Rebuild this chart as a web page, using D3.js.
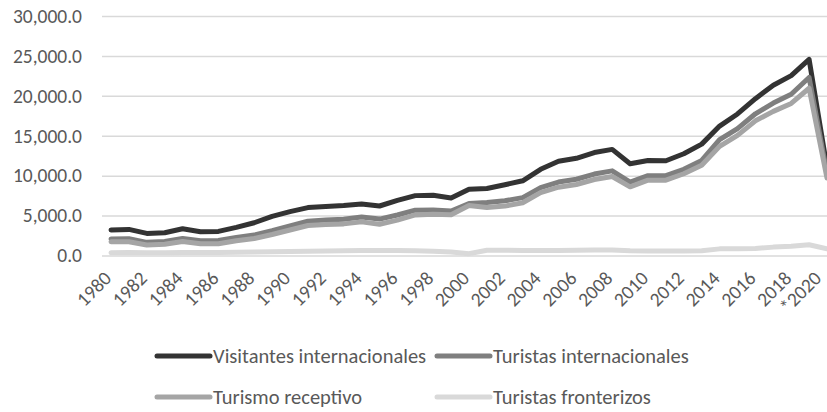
<!DOCTYPE html>
<html><head><meta charset="utf-8">
<script src="https://cdn.jsdelivr.net/npm/d3@7"></script>
<style>
body{margin:0;background:#fff;}
text{font-family:Calibri,Carlito,Lato,"Open Sans",sans-serif;}
</style>
</head><body>
<svg id="chart" width="827" height="412"></svg>
<script>
const categories = ["1980","1981","1982","1983","1984","1985","1986","1987","1988","1989",
  "1990","1991","1992","1993","1994","1995","1996","1997","1998","1999",
  "2000","2001","2002","2003","2004","2005","2006","2007","2008","2009",
  "2010","2011","2012","2013","2014","2015","2016","2017","2018","2019","*2020"];

const visitantesInternacionales = [3190,3270,2770,2850,3350,2980,3020,3520,4100,4900,
  5500,6000,6150,6250,6450,6200,6900,7500,7550,7200,
  8300,8400,8860,9360,10800,11800,12180,12900,13290,11500,
  11900,11870,12740,13950,16210,17730,19650,21330,22530,24560,11000];

const turistasInternacionales = [2060,2100,1650,1750,2140,1850,1870,2250,2560,3100,
  3700,4300,4450,4550,4830,4560,5070,5680,5700,5560,
  6500,6650,6850,7250,8500,9200,9550,10200,10600,9200,
  10000,10000,10800,11900,14500,15900,17750,19100,20200,22300,10300];

const turismoReceptivo = [1710,1730,1320,1410,1760,1470,1480,1840,2130,2630,
  3200,3760,3890,3960,4210,3920,4430,5080,5180,5110,
  6270,6000,6190,6610,7880,8560,8890,9520,9900,8600,
  9440,9440,10240,11300,13670,15040,16870,18050,19050,20950,9700];

const turistasFronterizos = [350,370,330,340,380,380,390,410,430,470,
  500,540,560,590,620,640,640,600,520,450,
  230,650,660,640,620,640,660,680,700,600,
  560,560,560,600,830,860,880,1050,1150,1350,850];

const seriesNames = ["Visitantes internacionales","Turistas internacionales","Turismo receptivo","Turistas fronterizos"];
const seriesColors = ["#333333","#7f7f7f","#a5a5a5","#d9d9d9"];
const yTickValues = [0,5000,10000,15000,20000,25000,30000];
const xTickLabels = categories.filter((d,i)=>i%2===0);

const seriesValues = [visitantesInternacionales, turistasInternacionales, turismoReceptivo, turistasFronterizos];

const svg = d3.select("#chart");
const AXIS_FONT = 19.5;
const LEGEND_FONT = 20.5;
const TEXT = "#595959";

const x = d3.scalePoint().domain(categories).range([111, 827]);
const y = d3.scaleLinear().domain([0, 30000]).range([255.5, 16]);

// y axis with gridlines
const yAxis = svg.append("g").attr("transform","translate(102,0)")
  .call(d3.axisLeft(y).tickValues(yTickValues).tickFormat(d3.format(",.1f"))
        .tickSize(-(827-102)).tickPadding(20));
yAxis.select(".domain").remove();
yAxis.selectAll(".tick line").attr("stroke","#d9d9d9").attr("stroke-width",1.5);
yAxis.selectAll(".tick text").attr("fill",TEXT).style("font-size",AXIS_FONT+"px")
  .style("font-family","Calibri,Carlito,Lato,sans-serif");

// x axis labels
const lastLabel = categories[categories.length-1];
const xAxis = svg.append("g").attr("transform","translate(0,255.5)")
  .call(d3.axisBottom(x).tickValues(xTickLabels).tickSize(0).tickPadding(0));
xAxis.select(".domain").remove();
xAxis.selectAll(".tick text")
  .attr("fill",TEXT).style("font-size",AXIS_FONT+"px")
  .style("font-family","Calibri,Carlito,Lato,sans-serif")
  .attr("text-anchor","end")
  .attr("dy",null).attr("y",null)
  .attr("transform",d => d===lastLabel ? "translate(-5,24) rotate(-45)" : "translate(1,24) rotate(-45)");

// lines
const line = d3.line().x((d,i)=>x(categories[i])).y(d=>y(d));
seriesValues.forEach((vals,k)=>{
  svg.append("path").datum(vals)
    .attr("d",line)
    .attr("fill","none")
    .attr("stroke",seriesColors[k])
    .attr("stroke-width",5)
    .attr("stroke-linejoin","round")
    .attr("stroke-linecap","round");
});

// legend
const legendPos = [[155,356],[435,356],[155,397],[435,397]];
seriesNames.forEach((name,k)=>{
  const g = svg.append("g").attr("transform",`translate(${legendPos[k][0]},${legendPos[k][1]})`);
  g.append("line").attr("x1",2).attr("x2",55).attr("y1",0).attr("y2",0)
    .attr("stroke",seriesColors[k]).attr("stroke-width",5).attr("stroke-linecap","round");
  g.append("text").attr("x",58).attr("y",0).attr("dy","0.35em")
    .attr("fill",TEXT).style("font-size",LEGEND_FONT+"px").text(name);
});
</script>
</body></html>
